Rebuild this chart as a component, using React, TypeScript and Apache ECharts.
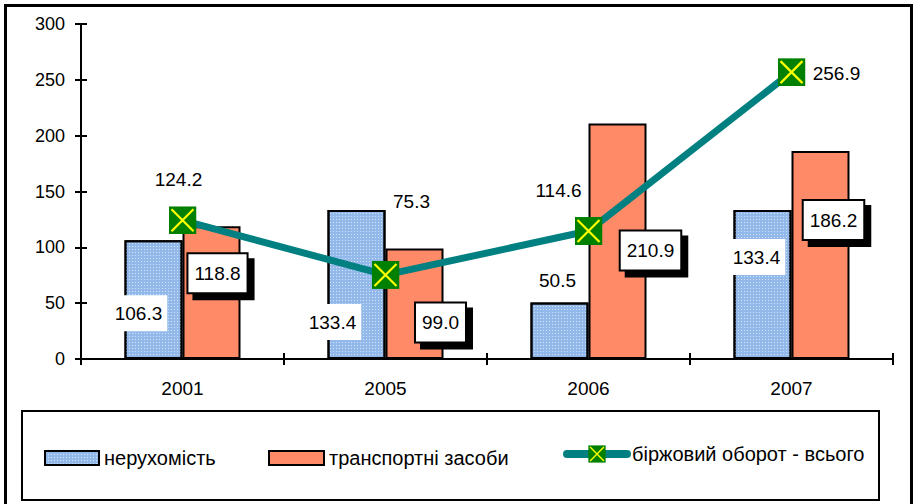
import React, { useEffect, useRef } from "react";
import * as echarts from "echarts";

const categories = ["2001", "2005", "2006", "2007"];
const realEstate = [106.3, 133.4, 50.5, 133.4];
const vehicles = [118.8, 99.0, 210.9, 186.2];
const totalTurnover = [124.2, 75.3, 114.6, 256.9];
const seriesNames = ["нерухомість", "транспортні засоби", "біржовий оборот - всього"];

// label offsets (pixels) relative to the bar top-centre / marker centre
const realEstateLabelOffsets = [[-15, 73], [-24, 112], [-2, -22], [-6, 47]];
const vehiclesLabelOffsets = [[6, 47], [26, 74], [33, 127], [13, 69]];
const totalLabelOffsets = [[-4, -41], [26, -73], [-30, -41], [45, 1]];

const FONT = "'Liberation Sans', Arial, sans-serif";

const markerSvg =
  "<svg xmlns='http://www.w3.org/2000/svg' width='28' height='28' viewBox='0 0 28 28'>" +
  "<rect x='0' y='0' width='28' height='28' fill='#008000'/>" +
  "<path d='M3 3L25 25M25 3L3 25' stroke='#ffff00' stroke-width='2.2'/></svg>";
const markerSymbol = "image://data:image/svg+xml;charset=utf-8," + encodeURIComponent(markerSvg);

export default function App() {
  const ref = useRef<HTMLDivElement>(null);
  useEffect(() => {
    if (!ref.current) return;
    const chart = echarts.init(ref.current, undefined, { renderer: "svg" });
    const fmt = (p: any) => Number(p.value).toFixed(1);
    const legendText = { fontFamily: FONT, fontSize: 20, color: "#000" };
    const option: any = {
      animation: false,
      backgroundColor: "#ffffff",
      textStyle: { fontFamily: FONT },
      grid: { left: 81, right: 23, top: 24, bottom: 145, containLabel: false },
      legend: [
        {
          data: [{ name: seriesNames[0], icon: "rect" }],
          left: 44,
          top: 448,
          padding: 0,
          itemWidth: 54,
          itemHeight: 14,
          textStyle: legendText,
        },
        {
          data: [{ name: seriesNames[1], icon: "rect" }],
          left: 268,
          top: 448,
          padding: 0,
          itemWidth: 55,
          itemHeight: 14,
          textStyle: legendText,
        },
        {
          data: [seriesNames[2]],
          left: 563,
          top: 444,
          padding: 0,
          itemWidth: 60,
          itemHeight: 22,
          lineStyle: { color: "#008080", width: 8, cap: "round" },
          textStyle: legendText,
        },
      ],
      xAxis: [
        {
          type: "category",
          data: categories,
          axisLine: { lineStyle: { color: "#000", width: 2 } },
          axisTick: { show: true, length: 6, lineStyle: { color: "#000", width: 2 } },
          axisLabel: { color: "#000", fontSize: 19, fontFamily: FONT, margin: 20 },
        },
        {
          type: "category",
          data: categories,
          position: "bottom",
          axisLine: { show: false },
          axisTick: { show: true, inside: true, length: 6, lineStyle: { color: "#000", width: 2 } },
          axisLabel: { show: false },
        },
      ],
      yAxis: [
        {
          type: "value",
          min: 0,
          max: 300,
          interval: 50,
          axisLine: { show: true, lineStyle: { color: "#000", width: 2 } },
          axisTick: { show: true, length: 6, lineStyle: { color: "#000", width: 2 } },
          axisLabel: { color: "#000", fontSize: 18, fontFamily: FONT, margin: 16 },
          splitLine: { show: false },
        },
        {
          type: "value",
          min: 0,
          max: 300,
          interval: 50,
          position: "left",
          axisLine: { show: false },
          axisTick: { show: true, inside: true, length: 6, lineStyle: { color: "#000", width: 2 } },
          axisLabel: { show: false },
          splitLine: { show: false },
        },
      ],
      series: [
        {
          name: seriesNames[0],
          type: "bar",
          barWidth: 58,
          barGap: "0%",
          itemStyle: {
            color: "#93b9ea",
            borderColor: "#000",
            borderWidth: 2,
            decal: {
              symbol: "rect",
              symbolSize: 1,
              dashArrayX: [1, 2],
              dashArrayY: [1, 2],
              color: "rgba(255,255,255,0.6)",
            },
          },
          data: realEstate.map((v, i) => ({
            value: v,
            label: {
              show: true,
              position: ["50%", 0],
              align: "center",
              verticalAlign: "middle",
              offset: realEstateLabelOffsets[i],
              formatter: fmt,
              fontFamily: FONT,
              fontSize: 19,
              color: "#000",
              backgroundColor: "#fff",
              padding: [9, 5, 8, 5],
            },
          })),
        },
        {
          name: seriesNames[1],
          type: "bar",
          barWidth: 58,
          barGap: "0%",
          itemStyle: { color: "#ff8a68", borderColor: "#000", borderWidth: 2 },
          data: vehicles.map((v, i) => ({
            value: v,
            label: {
              show: true,
              position: ["50%", 0],
              align: "center",
              verticalAlign: "middle",
              offset: vehiclesLabelOffsets[i],
              formatter: fmt,
              fontFamily: FONT,
              fontSize: 19,
              color: "#000",
              backgroundColor: "#fff",
              borderColor: "#000",
              borderWidth: 2,
              padding: [10, 6, 9, 6],
              shadowColor: "#000",
              shadowBlur: 0,
              shadowOffsetX: 6,
              shadowOffsetY: 6,
            },
          })),
        },
        {
          name: seriesNames[2],
          type: "line",
          symbol: markerSymbol,
          symbolSize: 28,
          z: 5,
          lineStyle: { color: "#008080", width: 7 },
          itemStyle: { color: "#008080" },
          data: totalTurnover.map((v, i) => ({
            value: v,
            label: {
              show: true,
              position: "inside",
              offset: totalLabelOffsets[i],
              formatter: fmt,
              fontFamily: FONT,
              fontSize: 19,
              color: "#000",
            },
          })),
        },
      ],
      graphic: [
        {
          type: "rect",
          shape: { x: 5.5, y: 5.5, width: 906, height: 520 },
          style: { fill: "none", stroke: "#000", lineWidth: 3 },
          silent: true,
        },
        {
          type: "rect",
          shape: { x: 22, y: 411, width: 857, height: 89 },
          style: { fill: "none", stroke: "#000", lineWidth: 2 },
          silent: true,
        },
      ],
    };
    chart.setOption(option);
    return () => chart.dispose();
  }, []);
  return (
    <div
      ref={ref}
      style={{ position: "absolute", left: 0, top: 0, width: 916, height: 504 }}
    />
  );
}
